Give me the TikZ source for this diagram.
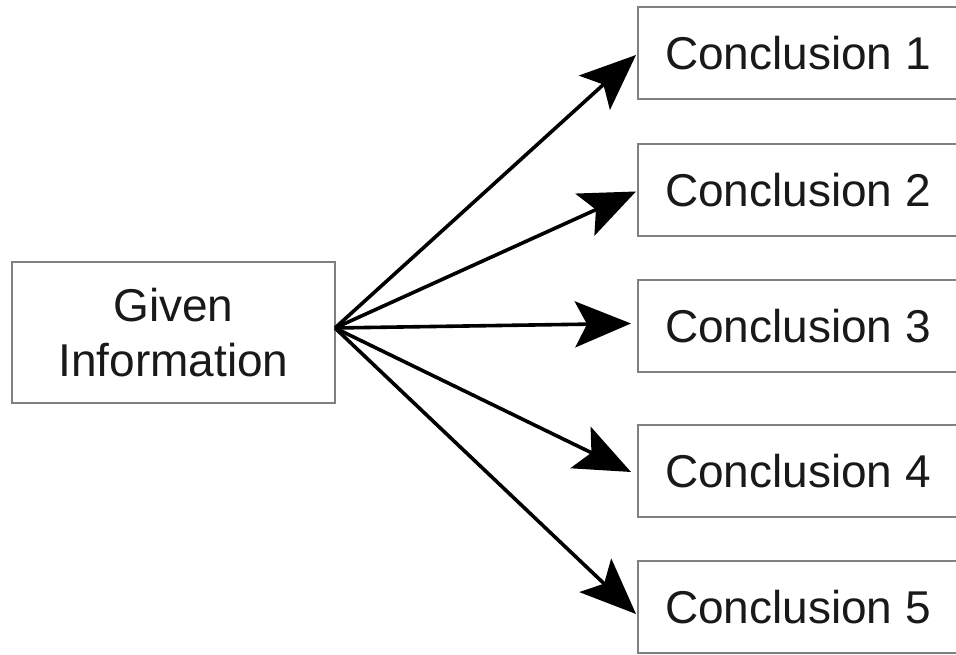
\documentclass[tikz,border=0pt]{standalone}
\usepackage{fontspec}
\setmainfont{Liberation Sans}
\usetikzlibrary{arrows.meta}
\begin{document}
\begin{tikzpicture}[x=1pt,y=1pt,
  box/.style={draw=black!50, line width=2pt, fill=white, rectangle, inner sep=0pt,
    font=\fontsize{46}{55}\selectfont, text=black!90, align=center},
  concl/.style={box, minimum width=320pt, minimum height=92pt},
  arr/.style={line width=3.6pt, -{Stealth[length=56pt, width=46pt, inset=12pt]}}]
\useasboundingbox (0,0) rectangle (956,655);
\fill[white] (0,0) rectangle (956,655);
\begin{scope}
\clip (0,0) rectangle (956,655);
\node[box, minimum width=323pt, minimum height=141pt] (given) at (173.5,322.5) {Given\\Information};
\node[concl] (c1) at (798,602) {Conclusion 1};
\node[concl] (c2) at (798,464.5) {Conclusion 2};
\node[concl] (c3) at (798,328.5) {Conclusion 3};
\node[concl] (c4) at (798,184) {Conclusion 4};
\node[concl] (c5) at (798,48) {Conclusion 5};
\coordinate (o) at (335,327);
\draw[arr] (o) -- ([xshift=-1pt,yshift=-2pt]c1.west);
\draw[arr] (o) -- ([xshift=-1pt,yshift=-1pt]c2.west);
\draw[arr] (o) -- ([xshift=-6pt,yshift=3pt]c3.west);
\draw[arr] (o) -- ([xshift=-6pt,yshift=-1pt]c4.west);
\draw[arr] (o) -- ([xshift=-1pt,yshift=-7pt]c5.west);
\end{scope}
\end{tikzpicture}
\end{document}
